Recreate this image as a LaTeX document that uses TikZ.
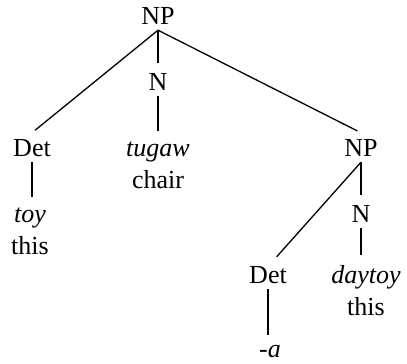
\documentclass[tikz,border=0pt]{standalone}
\usepackage{fontspec}
\setmainfont{Liberation Serif}
\usetikzlibrary{positioning}

\begin{document}
\begin{tikzpicture}[
  x=1pt, y=-1pt,
  font=\fontsize{26}{32}\selectfont,
  every node/.style={align=center, anchor=base, inner xsep=2pt, inner ysep=6pt},
  branch/.style={line width=1.3pt, shorten >=4pt},
]
\useasboundingbox (0,0) rectangle (407,364);
% top noun phrase
\node (np) at (158,24) {NP};
\node (n) at (158,90) {N};
\node (det) at (32,156) {Det};
\node (tugaw) at (158,188) {\textit{tugaw}\\chair};
\node (np2) at (361,156) {NP};
% leaves of the left half (base = last line)
\node (toy) at (30,254) {\textit{toy}\\this};
% embedded noun phrase
\node (n2) at (361,222) {N};
\node (det2) at (268,283) {Det};
\node (daytoy) at (366,315) {\textit{daytoy}\\this};
\node (suffix) at (270,357) {\textit{-a}};
% branches
\draw[branch] (np.south) -- (det.north);
\draw[branch] (np.south) -- (n.north);
\draw[branch] (np.south) -- (np2.north);
\draw[branch] (n.south) -- (n.south |- tugaw.north);
\draw[branch] (det.south) -- (det.south |- toy.north);
\draw[branch] (np2.south) -- (n2.north);
\draw[branch] (np2.south) -- ([xshift=6pt]det2.north);
\draw[branch] (n2.south) -- (n2.south |- daytoy.north);
\draw[branch] (det2.south) -- (det2.south |- suffix.north);
\end{tikzpicture}
\end{document}
